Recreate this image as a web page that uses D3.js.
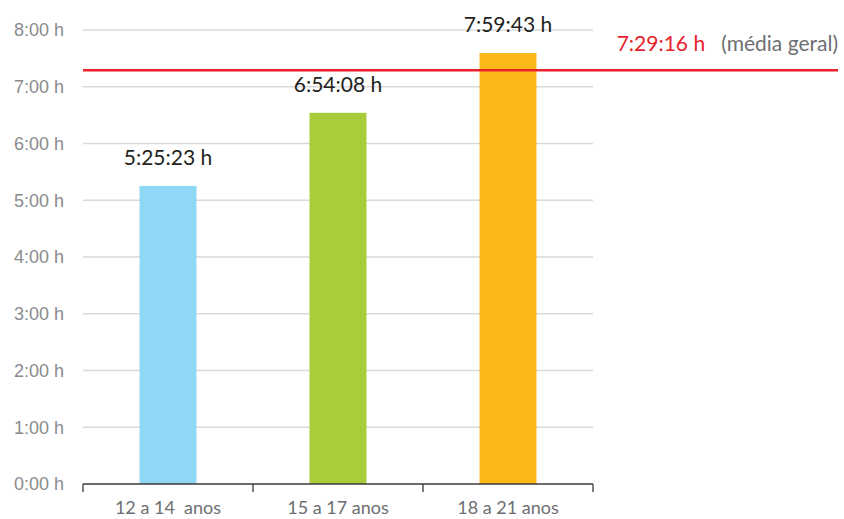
<!DOCTYPE html>
<html>
<head>
<meta charset="utf-8">
<script src="https://cdn.jsdelivr.net/npm/d3@7"></script>
<style>
  body { margin: 0; background: #fff; }
  svg { font-family: 'Lato', 'Open Sans', sans-serif; }
</style>
</head>
<body>
<svg id="chart" width="844" height="519"></svg>
<script>
'use strict'

// data (bar heights as drawn, in hours)
const categories = ['12 a 14  anos', '15 a 17 anos', '18 a 21 anos']
const values = [5.2523, 6.5408, 7.5943]
const valueLabels = ['5:25:23 h', '6:54:08 h', '7:59:43 h']
const colors = ['#8ed8f6', '#a8cd3a', '#fbb817']
const meanValue = 7.2916
const meanLabel = '7:29:16 h'
const meanNote = '(média geral)'
const yTicks = [0, 1, 2, 3, 4, 5, 6, 7, 8]
const yTickLabels = ['0:00 h', '1:00 h', '2:00 h', '3:00 h', '4:00 h', '5:00 h', '6:00 h', '7:00 h', '8:00 h']

const svg = d3.select('#chart')
const margin = { left: 83, top: 30 },
  width = 510,
  height = 454

const g = svg.append('g')
  .attr('transform', 'translate(' + margin.left + ',' + margin.top + ')')

const x = d3.scaleBand().domain(categories).range([0, width]).paddingInner(0.665).paddingOuter(0.3325)
const y = d3.scaleLinear().domain([0, 8]).range([height, 0])

// gridlines
g.append('g')
  .selectAll('line')
  .data(yTicks.slice(1))
  .enter().append('line')
  .attr('x1', 0)
  .attr('x2', width)
  .attr('y1', d => y(d))
  .attr('y2', d => y(d))
  .attr('stroke', '#d9d9d9')
  .attr('stroke-width', 1.3)

// y axis labels
const yAxis = g.append('g')
  .call(d3.axisLeft(y).tickValues(yTicks).tickSize(0).tickPadding(19).tickFormat((d, i) => yTickLabels[i]))
yAxis.select('.domain').remove()
yAxis.selectAll('text')
  .attr('fill', '#8a8b8d')
  .style('font-size', '18px')

// bars
g.selectAll('.bar')
  .data(values)
  .enter().append('rect')
  .attr('class', 'bar')
  .attr('x', (d, i) => x(categories[i]))
  .attr('y', d => y(d))
  .attr('width', x.bandwidth())
  .attr('height', d => height - y(d))
  .attr('fill', (d, i) => colors[i])

// value labels
g.selectAll('.vlabel')
  .data(values)
  .enter().append('text')
  .attr('class', 'vlabel')
  .attr('x', (d, i) => x(categories[i]) + x.bandwidth() / 2)
  .attr('y', d => y(d) - 21)
  .attr('text-anchor', 'middle')
  .attr('fill', '#231f20')
  .style('font-size', '21px')
  .text((d, i) => valueLabels[i])

// x axis with outer ticks at band edges
const xg = g.append('g')
  .attr('transform', 'translate(0,' + height + ')')
xg.append('line')
  .attr('x1', 0).attr('x2', width)
  .attr('stroke', '#3a3a3a').attr('stroke-width', 1.3)
xg.selectAll('.tick')
  .data(d3.range(categories.length + 1))
  .enter().append('line')
  .attr('x1', i => i * width / categories.length)
  .attr('x2', i => i * width / categories.length)
  .attr('y1', 0).attr('y2', 8)
  .attr('stroke', '#3a3a3a').attr('stroke-width', 1.3)
xg.selectAll('.xlabel')
  .data(categories)
  .enter().append('text')
  .attr('x', d => x(d) + x.bandwidth() / 2)
  .attr('y', 30)
  .attr('text-anchor', 'middle')
  .attr('fill', '#6d6e71')
  .style('font-size', '18px')
  .style('white-space', 'pre')
  .text(d => d)

// mean line
g.append('line')
  .attr('x1', 0)
  .attr('x2', 755)
  .attr('y1', y(meanValue))
  .attr('y2', y(meanValue))
  .attr('stroke', '#e8212b')
  .attr('stroke-width', 2.6)

const mt = g.append('text')
  .attr('x', 755)
  .attr('y', y(meanValue) - 19)
  .attr('text-anchor', 'end')
  .style('font-size', '21px')
  .style('white-space', 'pre')
mt.append('tspan').attr('fill', '#e8212b').text(meanLabel + '   ')
mt.append('tspan').attr('fill', '#6d6e71').text(meanNote)
</script>
</body>
</html>
